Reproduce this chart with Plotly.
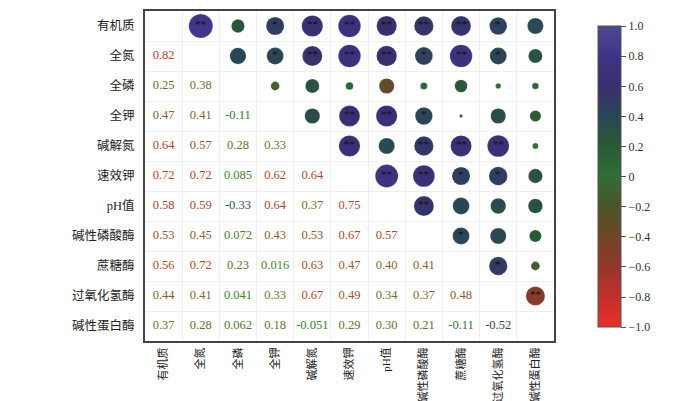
import numpy as np
import plotly.graph_objects as go

names = ["有机质", "全氮", "全磷", "全钾", "碱解氮", "速效钾", "pH值",
         "碱性磷酸酶", "蔗糖酶", "过氧化氢酶", "碱性蛋白酶"]

# lower triangle of the correlation matrix, row by row
lower = [
    [],
    [0.82],
    [0.25, 0.38],
    [0.47, 0.41, -0.11],
    [0.64, 0.57, 0.28, 0.33],
    [0.72, 0.72, 0.085, 0.62, 0.64],
    [0.58, 0.59, -0.33, 0.64, 0.37, 0.75],
    [0.53, 0.45, 0.072, 0.43, 0.53, 0.67, 0.57],
    [0.56, 0.72, 0.23, 0.016, 0.63, 0.47, 0.40, 0.41],
    [0.44, 0.41, 0.041, 0.33, 0.67, 0.49, 0.34, 0.37, 0.48],
    [0.37, 0.28, 0.062, 0.18, -0.051, 0.29, 0.30, 0.21, -0.11, -0.52],
]

# significance marks, same layout as lower
sig = [
    [],
    ["**"],
    ["", ""],
    ["*", "*", ""],
    ["**", "**", "", ""],
    ["**", "**", "", "**", "**"],
    ["**", "**", "", "**", "", "**"],
    ["**", "*", "", "*", "**", "**", "**"],
    ["**", "**", "", "", "**", "*", "", "*"],
    ["*", "*", "", "", "**", "*", "", "", "*"],
    ["", "", "", "", "", "", "", "", "", "**"],
]

cbar_vals = [1.0, 0.8, 0.6, 0.4, 0.2, 0, -0.2, -0.4, -0.6, -0.8, -1.0]
cbar_text = ["1.0", "0.8", "0.6", "0.4", "0.2", "0", "−0.2", "−0.4", "−0.6", "−0.8", "−1.0"]

stops = [
    (0.0, "#e8302a"), (0.1, "#c0302b"), (0.2, "#96362a"), (0.3, "#6e4628"),
    (0.4, "#4c5528"), (0.5, "#2f6e38"), (0.6, "#2a5a34"), (0.7, "#2a4656"),
    (0.8, "#372f70"), (0.9, "#3e3488"), (1.0, "#4b4a92"),
]
colorscale = [[s, c] for s, c in stops]

# colours of the numbers in the lower half (by r value)
text_stops = [
    (-1.0, "#2f3560"), (-0.52, "#35405a"), (-0.33, "#2f5040"), (-0.1, "#2f7a38"),
    (0.0, "#3a8a34"), (0.1, "#4a7e2c"), (0.25, "#6b6a2a"), (0.38, "#7f6a32"),
    (0.45, "#88602e"), (0.53, "#965430"), (0.6, "#a84a2c"), (0.7, "#bf3f2a"),
    (1.0, "#d8302a"),
]


def hex_rgb(h):
    return np.array([int(h[i:i + 2], 16) for i in (1, 3, 5)], dtype=float)


def text_color(v):
    for (s0, c0), (s1, c1) in zip(text_stops[:-1], text_stops[1:]):
        if s0 <= v <= s1:
            f = (v - s0) / (s1 - s0)
            rgb = hex_rgb(c0) * (1 - f) + hex_rgb(c1) * f
            return "rgb(%d,%d,%d)" % tuple(rgb.astype(int))


num_x, num_y, num_t, num_c = [], [], [], []
dot_x, dot_y, dot_v, dot_s = [], [], [], []
star_pos = []
for i, row in enumerate(lower):
    for j, r in enumerate(row):
        # lower: numbers
        num_x.append(j)
        num_y.append(i)
        num_t.append(f"{r}" if abs(r) < 0.1 and r != 0 else f"{r:.2f}")
        num_c.append(text_color(r))
        # upper: mirrored circles
        dot_x.append(i)
        dot_y.append(j)
        dot_v.append(r)
        dot_s.append(26.5 * np.sqrt(abs(r)))
        if sig[i][j]:
            star_pos.append((i, j, sig[i][j]))

fig = go.Figure()
fig.add_trace(go.Scatter(
    x=dot_x, y=dot_y, mode="markers",
    marker=dict(size=dot_s, color=dot_v, colorscale=colorscale, cmin=-1, cmax=1,
                opacity=1,
                line=dict(width=0.6, color="rgba(255,255,255,0.3)"),
                colorbar=dict(
                    x=1.082, xanchor="left", y=0.498, yanchor="middle",
                    lenmode="pixels", len=321, thickness=23,
                    outlinecolor="#555", outlinewidth=1,
                    tickmode="array", tickvals=cbar_vals, ticktext=cbar_text,
                    ticks="outside", ticklen=5, tickcolor="#555",
                    tickfont=dict(family="Liberation Serif", size=12, color="#333"),
                )),
    hoverinfo="skip", showlegend=False,
))
fig.add_trace(go.Scatter(
    x=num_x, y=num_y, mode="text", text=num_t,
    textfont=dict(family="Liberation Serif", size=12.5, color=num_c),
    hoverinfo="skip", showlegend=False,
))
for x, y, s in star_pos:
    fig.add_annotation(x=x, y=y, text=s, showarrow=False, yshift=2,
                       font=dict(family="Liberation Serif", size=11, color="#111"))

fig.update_xaxes(
    range=[-0.5, 10.5], tickmode="array", tickvals=list(range(11)), ticktext=names,
    tickangle=-90, tickfont=dict(family="Liberation Serif, Noto Sans CJK SC", size=11, color="#222"),
    showgrid=False, zeroline=False,
    showline=True, mirror=True, linecolor="#444", linewidth=2,
    minor=dict(tick0=0.5, dtick=1, showgrid=True, gridcolor="#efefef", gridwidth=1),
)
fig.update_yaxes(
    range=[10.5, -0.5], tickmode="array", tickvals=list(range(11)), ticktext=names,
    tickfont=dict(family="Liberation Serif, Noto Sans CJK SC", size=12.5, color="#222"),
    showgrid=False, zeroline=False,
    showline=True, mirror=True, linecolor="#444", linewidth=2,
    minor=dict(tick0=0.5, dtick=1, showgrid=True, gridcolor="#efefef", gridwidth=1),
    ticklabelstandoff=6,
)
fig.update_layout(
    width=700, height=401,
    margin=dict(l=137, r=154, t=3, b=68, autoexpand=False),
    plot_bgcolor="white", paper_bgcolor="white",
)

fig.write_html("out.html")
